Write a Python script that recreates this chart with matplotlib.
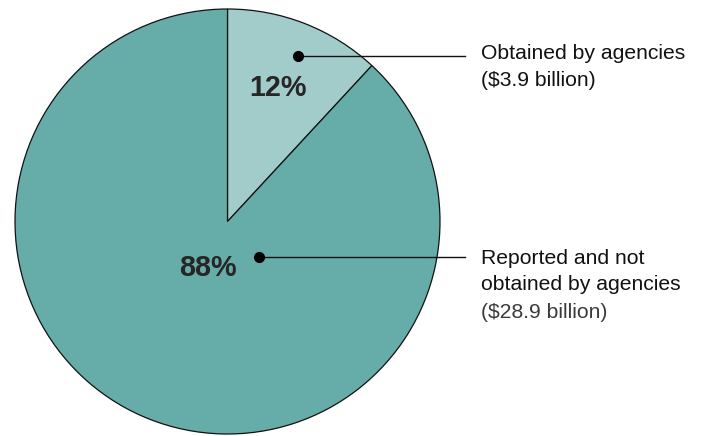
import matplotlib
matplotlib.use("Agg")
import matplotlib.pyplot as plt

categories = ["Obtained by agencies", "Reported and not\nobtained by agencies"]
values = [3.9, 28.9]
pct_labels = ["12%", "88%"]
amount_labels = ["($3.9 billion)", "($28.9 billion)"]
colors = ["#A2CCCA", "#66ADA9"]

plt.rcParams['font.family'] = ['Liberation Sans', 'DejaVu Sans']

W, H = 704, 436
fig = plt.figure(figsize=(W / 100, H / 100), dpi=100)
ax = fig.add_axes([0, 0, 1, 1])
ax.set_xlim(0, W)
ax.set_ylim(0, H)
ax.set_aspect('equal')
ax.axis('off')

cx, cy, r = 227.5, H - 221.5, 212.5
ax.pie(values, colors=colors, startangle=90, counterclock=False,
       center=(cx, cy), radius=r, frame=True,
       wedgeprops=dict(edgecolor="#111111", linewidth=0.9))
ax.set_xlim(0, W)
ax.set_ylim(0, H)
ax.axis('off')

# percentage labels
pct_pos = [(278, 88), (208, 268)]
for (px, py), lab in zip(pct_pos, pct_labels):
    ax.text(px, H - py, lab, fontsize=20.7, fontweight='bold', color='#262626',
            ha='center', va='center')

# leader lines and dots
dots = [(298, 56), (259, 257)]
for (dx, dy) in dots:
    ax.plot([dx, 465], [H - dy, H - dy], color='#111111', lw=1.0, zorder=5)
    ax.plot(dx, H - dy, 'o', color='black', ms=7, zorder=6)

# category labels
fs = 15.2
ax.text(481, H - 53, categories[0], fontsize=fs, color='#111111', va='center', ha='left')
ax.text(481, H - 80, amount_labels[0], fontsize=fs, color='#111111', va='center', ha='left')
ax.text(481, H - 258, "Reported and not", fontsize=fs, color='#111111', va='center', ha='left')
ax.text(481, H - 285, "obtained by agencies", fontsize=fs, color='#111111', va='center', ha='left')
ax.text(481, H - 312, amount_labels[1], fontsize=fs, color='#3a3a3a', va='center', ha='left')

fig.savefig("out.png", dpi=100)
